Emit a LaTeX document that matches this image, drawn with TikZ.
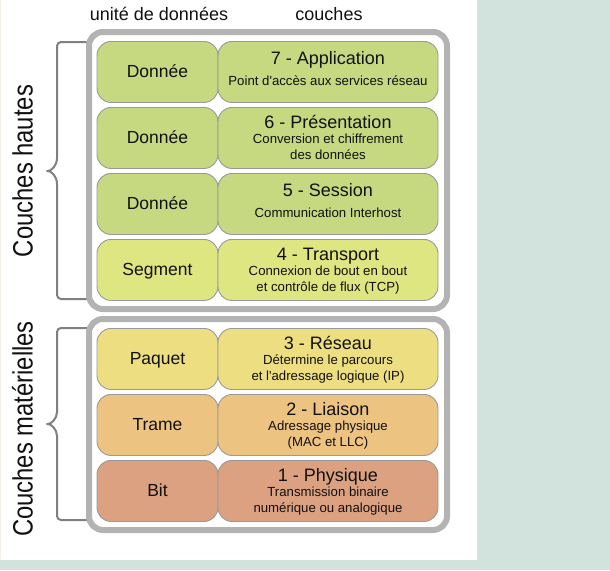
\documentclass[tikz,border=0pt]{standalone}
\usepackage{fontspec}
\setmainfont{Liberation Sans}
\newfontfamily\sidefont[FakeStretch=0.85]{Liberation Sans}
\usetikzlibrary{calc}
\definecolor{bgteal}{HTML}{D2E3DD}
\definecolor{beige}{HTML}{F3EFE2}
\definecolor{framegray}{HTML}{B3B3B3}
\definecolor{cellborder}{HTML}{999999}
\definecolor{bracegray}{HTML}{808080}
\definecolor{txt}{HTML}{111111}
\definecolor{cgreen}{HTML}{C6D981}
\definecolor{cyellowgreen}{HTML}{DEE681}
\definecolor{cyellow}{HTML}{EDDF81}
\definecolor{corange}{HTML}{EDC382}
\definecolor{cbrown}{HTML}{DCA180}
\begin{document}
\begin{tikzpicture}[x=1pt,y=-1pt,
  cell/.style={draw=cellborder, line width=0.9pt, rounded corners=14pt, minimum height=61pt, inner sep=0pt, anchor=north},
  lcell/.style={cell, minimum width=121pt},
  rcell/.style={cell, minimum width=220pt},
  frame/.style={draw=framegray, line width=6pt, rounded corners=14pt},
  ttl/.style={font=\fontsize{18}{20}\selectfont, text=txt, anchor=base, inner sep=0pt},
  unit/.style={font=\fontsize{17.5}{20}\selectfont, text=txt, anchor=base, inner sep=0pt},
  sub/.style={font=\fontsize{13.2}{15}\selectfont, text=txt, anchor=base, inner sep=0pt},
  hdr/.style={font=\fontsize{18}{20}\selectfont, text=txt, anchor=base, inner sep=0pt},
  brace/.style={draw=bracegray, line width=2pt, rounded corners=4pt},
  side/.style={font=\sidefont\fontsize{28}{30}\selectfont, text=txt, rotate=90, anchor=base, inner sep=0pt}
]
\useasboundingbox (0,0) rectangle (610,570);
\fill[bgteal] (0,0) rectangle (610,570);
\fill[white] (1.3,0) rectangle (477,560);
\fill[beige] (0,0) rectangle (1.3,560);

% headers
\node[hdr] (h1) at (159,20) {unité de données};
\node[hdr] (h2) at (329,20) {couches};

% side labels
\node[side] (s1) at (32.5,171) {Couches hautes};
\node[side] (s2) at (32.5,429) {Couches matérielles};

% braces
\draw[brace] (87,42) -- (57,42) -- (57,154) .. controls (57,166) and (51,171) .. (44,171) .. controls (51,171) and (57,176) .. (57,188) -- (57,299) -- (87,299);
\draw[brace] (87,328) -- (57,328) -- (57,408) .. controls (57,419) and (51,424) .. (44,424) .. controls (51,424) and (57,429) .. (57,440) -- (57,520) -- (87,520);

% frames
\draw[frame] (89,32) rectangle (447,309);
\draw[frame] (89,319) rectangle (447,530);

% cells
\node[lcell, fill=cgreen] (L7) at (157.5,41) {};
\node[rcell, fill=cgreen] (R7) at (328,41) {};
\node[lcell, fill=cgreen] (L6) at (157.5,107) {};
\node[rcell, fill=cgreen] (R6) at (328,107) {};
\node[lcell, fill=cgreen] (L5) at (157.5,173) {};
\node[rcell, fill=cgreen] (R5) at (328,173) {};
\node[lcell, fill=cyellowgreen] (L4) at (157.5,239) {};
\node[rcell, fill=cyellowgreen] (R4) at (328,239) {};
\node[lcell, fill=cyellow] (L3) at (157.5,328) {};
\node[rcell, fill=cyellow] (R3) at (328,328) {};
\node[lcell, fill=corange] (L2) at (157.5,394) {};
\node[rcell, fill=corange] (R2) at (328,394) {};
\node[lcell, fill=cbrown] (L1) at (157.5,460) {};
\node[rcell, fill=cbrown] (R1) at (328,460) {};

% unit texts
\node[unit] (u7) at ($(L7.north)+(0,36)$) {Donnée};
\node[unit] (u6) at ($(L6.north)+(0,36)$) {Donnée};
\node[unit] (u5) at ($(L5.north)+(0,36)$) {Donnée};
\node[unit] (u4) at ($(L4.north)+(0,36)$) {Segment};
\node[unit] (u3) at ($(L3.north)+(0,36)$) {Paquet};
\node[unit] (u2) at ($(L2.north)+(0,36)$) {Trame};
\node[unit] (u1) at ($(L1.north)+(0,36)$) {Bit};

% layer texts
\node[ttl] (t7) at ($(R7.north)+(0,23.5)$) {7 - Application};
\node[sub] (a7) at ($(R7.north)+(0,44)$) {Point d\textquotesingle accès aux services réseau};

\node[ttl] (t6) at ($(R6.north)+(0,21)$) {6 - Présentation};
\node[sub] (a6) at ($(R6.north)+(0,36.5)$) {Conversion et chiffrement};
\node[sub] (b6) at ($(R6.north)+(0,52.5)$) {des données};

\node[ttl] (t5) at ($(R5.north)+(0,23.5)$) {5 - Session};
\node[sub] (a5) at ($(R5.north)+(0,44)$) {Communication Interhost};

\node[ttl] (t4) at ($(R4.north)+(0,21)$) {4 - Transport};
\node[sub] (a4) at ($(R4.north)+(0,36.5)$) {Connexion de bout en bout};
\node[sub] (b4) at ($(R4.north)+(0,52.5)$) {et contrôle de flux (TCP)};

\node[ttl] (t3) at ($(R3.north)+(0,21)$) {3 - Réseau};
\node[sub] (a3) at ($(R3.north)+(0,36.5)$) {Détermine le parcours};
\node[sub] (b3) at ($(R3.north)+(0,52.5)$) {et l\textquotesingle adressage logique (IP)};

\node[ttl] (t2) at ($(R2.north)+(0,21)$) {2 - Liaison};
\node[sub] (a2) at ($(R2.north)+(0,36.5)$) {Adressage physique};
\node[sub] (b2) at ($(R2.north)+(0,52.5)$) {(MAC et LLC)};

\node[ttl] (t1) at ($(R1.north)+(0,21)$) {1 - Physique};
\node[sub] (a1) at ($(R1.north)+(0,36.5)$) {Transmission binaire};
\node[sub] (b1) at ($(R1.north)+(0,52.5)$) {numérique ou analogique};
\end{tikzpicture}
\end{document}
